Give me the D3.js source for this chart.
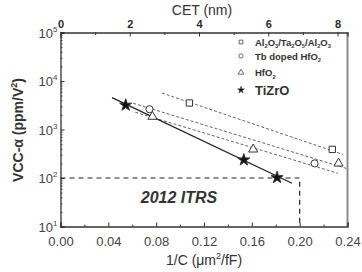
<!DOCTYPE html>
<html><head><meta charset="utf-8">
<script src="https://cdn.jsdelivr.net/npm/d3@7"></script>
<style>body{margin:0;background:#fff}svg{display:block;font-family:"Liberation Sans",Arial,sans-serif}</style>
</head><body>
<svg id="c" width="362" height="272"></svg>
<script>
// ---- data ----
const xTicks = [0, 0.04, 0.08, 0.12, 0.16, 0.20, 0.24];
const yTicks = [1, 2, 3, 4, 5]; // exponents
const cetTicks = [0, 2, 4, 6, 8];
const cetFactor = 34.53; // CET(nm) = 34.53 * (1/C)
const tizroX = [0.0545, 0.1533, 0.1811];
const tizroY = [3180, 236, 102];
const alTaX = [0.1078, 0.2273];
const alTaY = [3520, 389];
const tbX = [0.0744, 0.2125];
const tbY = [2620, 200];
const hfX = [0.0769, 0.1611, 0.2325];
const hfY = [1840, 389, 200];
const fitTiZrOX = [0.0431, 0.1936], fitTiZrOY = [4550, 78];
const fitAlTaX = [0.0848, 0.2361], fitAlTaY = [5660, 307];
const fitHfX = [0.0608, 0.2389], fitHfY = [3480, 158];
const fitTbX = [0.0625, 0.2319], fitTbY = [2270, 125];
const itrsX = 0.20, itrsY = 100;

const svg = d3.select("#c");
const L = 60.5, R = 347.5, T = 32.5, B = 226.5;
const x = d3.scaleLinear().domain([0, 0.24]).range([L, R]);
const y = d3.scaleLog().domain([10, 1e5]).range([B, T]);
const xc = d3.scaleLinear().domain([0, 0.24 * cetFactor]).range([L, R]);
const txt = "#2b2b2b";

// frame
svg.append("line").attr("x1", R).attr("x2", R).attr("y1", T).attr("y2", B).attr("stroke", "#8a8a8a").attr("stroke-width", 2);

// bottom axis
const gx = svg.append("g").attr("transform", `translate(0,${B})`)
  .call(d3.axisBottom(x).tickValues(xTicks).tickSize(-4).tickFormat(d3.format(".2f")).tickPadding(7));
gx.selectAll("text").attr("font-size", 13).attr("fill", "#444").attr("font-family", "Liberation Sans, Arial").attr("dy", "0.95em");
gx.selectAll(".tick line").attr("stroke", "#333");
gx.select(".domain").attr("stroke", "#333").attr("stroke-width", 1.3);
const gxm = svg.append("g").attr("transform", `translate(0,${B})`)
  .call(d3.axisBottom(x).tickValues([0.02, 0.06, 0.10, 0.14, 0.18, 0.22]).tickSize(-2).tickFormat(""));
gxm.select(".domain").remove(); gxm.selectAll(".tick line").attr("stroke", "#333");

// top axis (CET)
const gt = svg.append("g").attr("transform", `translate(0,${T})`)
  .call(d3.axisTop(xc).tickValues(cetTicks).tickSize(-4).tickPadding(5).tickFormat(d3.format("d")));
gt.selectAll("text").attr("font-size", 11).attr("font-weight", "bold").attr("fill", txt).attr("font-family", "Liberation Sans, Arial");
gt.select(".domain").attr("stroke", "#333").attr("stroke-width", 1.3);
gt.selectAll(".tick line").attr("stroke", "#333");
const gtm = svg.append("g").attr("transform", `translate(0,${T})`)
  .call(d3.axisTop(xc).tickValues([1, 3, 5, 7]).tickSize(-2.5).tickFormat(""));
gtm.select(".domain").remove(); gtm.selectAll(".tick line").attr("stroke", "#333");

// left axis
const gy = svg.append("g").attr("transform", `translate(${L},0)`)
  .call(d3.axisLeft(y).tickValues(yTicks.map(e => Math.pow(10, e))).tickSize(-4).tickFormat(""));
gy.select(".domain").attr("stroke", "#333").attr("stroke-width", 1.3);
gy.selectAll(".tick line").attr("stroke", "#333");
const minors = [];
for (let e = 1; e < 5; e++) for (let m = 2; m <= 9; m++) minors.push(m * Math.pow(10, e));
const gym = svg.append("g").attr("transform", `translate(${L},0)`)
  .call(d3.axisLeft(y).tickValues(minors).tickSize(-2).tickFormat(""));
gym.select(".domain").remove(); gym.selectAll(".tick line").attr("stroke", "#444");
yTicks.forEach(e => {
  const t = svg.append("text").attr("x", L - 3).attr("y", y(Math.pow(10, e)) + 5)
    .attr("text-anchor", "end").attr("font-size", 13).attr("fill", "#444");
  t.append("tspan").text("10");
  t.append("tspan").attr("font-size", 8).attr("dy", -6).text(e);
});

// axis titles
svg.append("text").attr("x", 202).attr("y", 15).attr("text-anchor", "middle")
  .attr("font-size", 14).attr("fill", "#333").text("CET (nm)");
const xt = svg.append("text").attr("x", 204).attr("y", 265).attr("text-anchor", "middle")
  .attr("font-size", 14).attr("fill", "#333");
xt.append("tspan").text("1/C (\u03bcm");
xt.append("tspan").attr("font-size", 9).attr("dy", -6).text("2");
xt.append("tspan").attr("dy", 6).text("/fF)");
const yt = svg.append("text").attr("transform", "translate(23,130) rotate(-90)").attr("text-anchor", "middle")
  .attr("font-size", 14).attr("font-weight", "bold").attr("fill", "#333");
yt.append("tspan").text("VCC-\u03b1 (ppm/V");
yt.append("tspan").attr("font-size", 9).attr("dy", -6).text("2");
yt.append("tspan").attr("dy", 6).text(")");

// ITRS box
svg.append("path").attr("d", `M${x(0)},${y(itrsY)}H${x(itrsX)}V${B}`)
  .attr("fill", "none").attr("stroke", "#222").attr("stroke-width", 1.2).attr("stroke-dasharray", "5,4");
svg.append("text").attr("x", 179).attr("y", 203).attr("text-anchor", "middle")
  .attr("font-size", 16).attr("font-weight", "bold").attr("font-style", "italic").attr("fill", "#333").text("2012 ITRS");

// fit lines
const line = d3.line().x(d => x(d[0])).y(d => y(d[1]));
function fit(xs, ys, dash, col, w) {
  svg.append("path").datum(xs.map((v, i) => [v, ys[i]])).attr("d", line)
    .attr("fill", "none").attr("stroke", col).attr("stroke-width", w).attr("stroke-dasharray", dash);
}
fit(fitAlTaX, fitAlTaY, "3,2", "#555", 0.9);
fit(fitHfX, fitHfY, "3,2", "#555", 0.9);
fit(fitTbX, fitTbY, "3,2", "#555", 0.9);
fit(fitTiZrOX, fitTiZrOY, null, "#222", 1.3);

// markers
function pts(xs, ys, type, size, fill) {
  svg.append("g").selectAll("path").data(xs.map((v, i) => [v, ys[i]])).join("path")
    .attr("transform", d => `translate(${x(d[0])},${y(d[1])})`)
    .attr("d", d3.symbol().type(type).size(size))
    .attr("fill", fill).attr("stroke", "#333").attr("stroke-width", 1);
}
pts(alTaX, alTaY, d3.symbolSquare, 40, "#fff");
pts(tbX, tbY, d3.symbolCircle, 40, "#fff");
pts(hfX, hfY, d3.symbolTriangle, 36, "#fff");
pts(tizroX, tizroY, d3.symbolStar, 45, "#111");

// legend
const leg = [
  {sym: d3.symbolSquare, size: 14, fill: "#fff", y: 42},
  {sym: d3.symbolCircle, size: 14, fill: "#fff", y: 56},
  {sym: d3.symbolTriangle, size: 14, fill: "#fff", y: 72.5},
  {sym: d3.symbolStar, size: 14, fill: "#111", y: 90}
];
leg.forEach(l => svg.append("path").attr("transform", `translate(241,${l.y})`)
  .attr("d", d3.symbol().type(l.sym).size(l.size)).attr("fill", l.fill).attr("stroke", "#444").attr("stroke-width", 0.8));
function legText(yy, parts, fs, bold) {
  const t = svg.append("text").attr("x", 255).attr("y", yy).attr("font-size", fs)
    .attr("font-weight", bold ? "bold" : "normal").attr("fill", "#333");
  parts.forEach(p => {
    if (p.sub) t.append("tspan").attr("font-size", fs * 0.6).attr("dy", 2.5).text(p.t);
    else t.append("tspan").attr("dy", p.after ? -2.5 : 0).text(p.t);
  });
}
legText(45.5, [{t:"Al"},{t:"2",sub:1},{t:"O",after:1},{t:"3",sub:1},{t:"/Ta",after:1},{t:"2",sub:1},{t:"O",after:1},{t:"5",sub:1},{t:"/Al",after:1},{t:"2",sub:1},{t:"O",after:1},{t:"3",sub:1}], 9.5, true);
legText(59.5, [{t:"Tb doped HfO"},{t:"2",sub:1}], 9.5, true);
legText(76, [{t:"HfO"},{t:"2",sub:1}], 9.5, true);
legText(95, [{t:"TiZrO"}], 13, true);
</script>
</body></html>
